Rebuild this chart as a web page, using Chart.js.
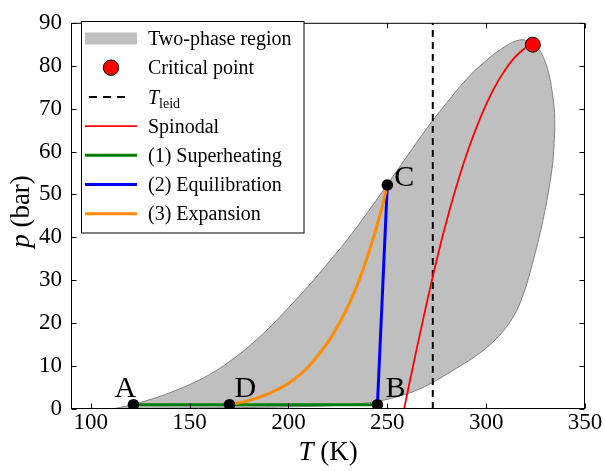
<!DOCTYPE html>
<html>
<head>
<meta charset="utf-8">
<script src="https://cdn.jsdelivr.net/npm/chart.js@4.4.0/dist/chart.umd.min.js"></script>
<style>
  html, body { margin: 0; padding: 0; background: #fff; }
  canvas { display: block; }
</style>
</head>
<body>
<canvas id="chart" width="605" height="471"></canvas>
<script>
// ====== Dados ======
const xTicks = [100, 150, 200, 250, 300, 350];
const yTicks = [0, 10, 20, 30, 40, 50, 60, 70, 80, 90];

// contorno da região bifásica (volta fechada: borda de baixo/direita, depois a de cima)
const envelopeT = [112, 150, 180, 210, 230, 245, 256, 266, 276, 285, 293, 300, 306, 311, 315.5, 319, 322, 324.6, 326.8, 328.7, 330.3, 331.8, 333, 334, 334.5, 334.7, 334.4, 333.3, 331.5, 329, 326, 322, 317,
    310, 300, 290, 280, 270, 260, 250, 240, 230, 220, 210, 200, 190, 180, 170, 160, 150, 140, 130, 120, 112];
const envelopeP = [0.1, 0.2, 0.35, 0.6, 1.0, 1.8, 3.0, 4.6, 7.0, 9.5, 11.8, 14.2, 16.8, 19.6, 23, 27, 31.5, 36, 40, 44, 47.5, 51.5, 55, 59, 63, 66.6, 70, 74.2, 78.5, 81.9, 84.2, 85.6, 86,
    84.6, 81.2, 76.8, 71.3, 65.4, 58.9, 52.3, 45.8, 39.6, 34.0, 28.6, 23.6, 18.8, 14.6, 11.0, 8.0, 5.7, 3.8, 2.2, 0.9, 0.1];

const spinodalT = [258.5, 262, 266, 270, 274, 278, 282, 286, 290, 294, 298, 302, 306, 310, 314, 318, 321, 323.6];
const spinodalP = [0, 7.8, 16.4, 24.8, 32.8, 40.3, 47.2, 53.5, 59.2, 64.3, 68.9, 72.9, 76.4, 79.3, 81.7, 83.5, 84.4, 84.9];

const superheatT = [121.6, 245];
const superheatP = [1, 1];

const equilT = [245, 250];
const equilP = [1, 52.2];

const expansionT = [170.2, 180, 190, 200, 210, 220, 226, 232, 237, 241, 244.5, 247.5, 250];
const expansionP = [1.0, 2.0, 3.6, 6.0, 9.8, 15.6, 20.2, 25.8, 31.6, 37.0, 42.3, 47.3, 52.2];

const tLeid = 273;
const leidP = [0, 90];

const stateNames = ["A", "B", "C", "D"];
const stateT = [121.6, 245, 250, 170.2];
const stateP = [1, 1, 52.2, 1];

const criticalT = [323.6];
const criticalP = [84.9];

const legendLabels = ["Two-phase region", "Critical point", "T_leid", "Spinodal",
    "(1) Superheating", "(2) Equilibration", "(3) Expansion"];

const SERIF = "'Liberation Serif', 'Times New Roman', serif";

function toXY(ts, ps) {
    return ts.map((t, i) => ({ x: t, y: ps[i] }));
}

// ====== Ticks para dentro + moldura ======
const framePlugin = {
    id: "frame",
    afterDatasetsDraw(chart) {
        const { ctx, chartArea: a, scales } = chart;
        const L = a.left + 0.5, R = a.right - 0.5, T = a.top + 0.5, B = a.bottom - 0.5;
        ctx.save();
        ctx.strokeStyle = "#000";
        ctx.lineWidth = 1;
        ctx.beginPath();
        xTicks.forEach(v => {
            const px = Math.round(scales.x.getPixelForValue(v)) + 0.5;
            ctx.moveTo(px, B); ctx.lineTo(px, B - 5);
            ctx.moveTo(px, T); ctx.lineTo(px, T + 5);
        });
        yTicks.forEach(v => {
            const py = Math.round(scales.y.getPixelForValue(v)) + 0.5;
            ctx.moveTo(L, py); ctx.lineTo(L + 5, py);
            ctx.moveTo(R, py); ctx.lineTo(R - 5, py);
        });
        ctx.stroke();
        ctx.strokeRect(L, T, R - L, B - T);
        ctx.restore();
    }
};

// ====== Rótulos A-D, títulos e legenda ======
const labelOffsets = { A: [-19, -8], B: [8, -8], C: [7, 1], D: [5, -8] };

function drawMixed(ctx, parts, x, y) {
    let cx = x;
    parts.forEach(p => {
        ctx.font = p.font;
        ctx.fillText(p.text, cx, y + (p.dy || 0));
        cx += ctx.measureText(p.text).width;
    });
}
function mixedWidth(ctx, parts) {
    let w = 0;
    parts.forEach(p => { ctx.font = p.font; w += ctx.measureText(p.text).width; });
    return w;
}

const annotPlugin = {
    id: "annot",
    afterDraw(chart) {
        const { ctx, chartArea: a, scales } = chart;
        ctx.save();
        ctx.fillStyle = "#000";
        ctx.textBaseline = "alphabetic";
        ctx.textAlign = "left";

        // letras dos estados
        ctx.font = "30px " + SERIF;
        stateNames.forEach((n, i) => {
            const px = scales.x.getPixelForValue(stateT[i]);
            const py = scales.y.getPixelForValue(stateP[i]);
            const o = labelOffsets[n];
            ctx.fillText(n, px + o[0], py + o[1]);
        });

        // título eixo x
        const xt = [
            { text: "T", font: "italic 27px " + SERIF },
            { text: " (K)", font: "27px " + SERIF }
        ];
        const cx = (a.left + a.right) / 2;
        drawMixed(ctx, xt, cx - mixedWidth(ctx, xt) / 2, 460);

        // título eixo y
        const yt = [
            { text: "p", font: "italic 27px " + SERIF },
            { text: " (bar)", font: "27px " + SERIF }
        ];
        ctx.save();
        ctx.translate(29, 211.5);
        ctx.rotate(-Math.PI / 2);
        drawMixed(ctx, yt, -mixedWidth(ctx, yt) / 2, 0);
        ctx.restore();

        // legenda
        ctx.fillStyle = "#fff";
        ctx.fillRect(81.5, 21.5, 222.5, 211.5);
        ctx.strokeStyle = "#000";
        ctx.lineWidth = 1;
        ctx.strokeRect(81.5, 21.5, 222.5, 211.5);

        const rowY = i => 38.5 + i * 29.2;
        const hx0 = 85, hx1 = 137;
        // 0 região bifásica
        ctx.fillStyle = "#bfbfbf";
        ctx.fillRect(hx0, rowY(0) - 6, hx1 - hx0, 12);
        // 1 ponto crítico
        ctx.beginPath();
        ctx.arc(111, rowY(1), 7.7, 0, Math.PI * 2);
        ctx.fillStyle = "#ff0000";
        ctx.fill();
        ctx.strokeStyle = "#000";
        ctx.stroke();
        // 2 T_leid
        ctx.save();
        ctx.setLineDash([8, 6]);
        ctx.lineWidth = 2;
        ctx.beginPath();
        ctx.moveTo(89, rowY(2)); ctx.lineTo(126, rowY(2));
        ctx.stroke();
        ctx.restore();
        // 3..6 linhas
        const lineHandles = [[3, "#ff0000", 1.8], [4, "#008000", 3], [5, "#0000ff", 3], [6, "#ff8c00", 3]];
        lineHandles.forEach(([i, c, w]) => {
            ctx.strokeStyle = c;
            ctx.lineWidth = w;
            ctx.beginPath();
            ctx.moveTo(hx0, rowY(i)); ctx.lineTo(hx1, rowY(i));
            ctx.stroke();
        });

        ctx.fillStyle = "#000";
        legendLabels.forEach((lab, i) => {
            const y = rowY(i) + 6.7;
            if (lab === "T_leid") {
                drawMixed(ctx, [
                    { text: "T", font: "italic 20px " + SERIF },
                    { text: "leid", font: "14px " + SERIF, dy: 4 }
                ], 148, y);
            } else {
                ctx.font = "20px " + SERIF;
                ctx.fillText(lab, 148, y);
            }
        });
        ctx.restore();
    }
};

// ====== Gráfico ======
new Chart(document.getElementById("chart"), {
    type: "scatter",
    data: {
        datasets: [
            {
                label: "Critical point",
                data: toXY(criticalT, criticalP),
                showLine: false,
                pointRadius: 7.5,
                pointBackgroundColor: "#ff0000",
                pointBorderColor: "#000",
                pointBorderWidth: 1,
                order: 0
            },
            {
                label: "States",
                data: toXY(stateT, stateP),
                showLine: false,
                pointRadius: 5.8,
                pointBackgroundColor: "#000",
                pointBorderColor: "#000",
                pointBorderWidth: 0,
                order: 1
            },
            {
                label: "(3) Expansion",
                data: toXY(expansionT, expansionP),
                showLine: true,
                borderColor: "#ff8c00",
                borderWidth: 3,
                pointRadius: 0,
                tension: 0.4,
                order: 2
            },
            {
                label: "(2) Equilibration",
                data: toXY(equilT, equilP),
                showLine: true,
                borderColor: "#0000ff",
                borderWidth: 3,
                pointRadius: 0,
                order: 3
            },
            {
                label: "(1) Superheating",
                data: toXY(superheatT, superheatP),
                showLine: true,
                borderColor: "#008000",
                borderWidth: 3,
                pointRadius: 0,
                order: 4
            },
            {
                label: "Spinodal",
                data: toXY(spinodalT, spinodalP),
                showLine: true,
                borderColor: "#ff0000",
                borderWidth: 1.8,
                pointRadius: 0,
                tension: 0.4,
                order: 5
            },
            {
                label: "T_leid",
                data: toXY([tLeid, tLeid], leidP),
                showLine: true,
                borderColor: "#000",
                borderWidth: 2,
                borderDash: [7, 5],
                pointRadius: 0,
                order: 6
            },
            {
                label: "Two-phase region",
                data: toXY(envelopeT, envelopeP),
                showLine: true,
                fill: "shape",
                backgroundColor: "#bfbfbf",
                borderColor: "#808080",
                borderWidth: 1,
                pointRadius: 0,
                tension: 0.4,
                order: 7
            }
        ]
    },
    options: {
        responsive: false,
        animation: false,
        devicePixelRatio: 1,
        layout: { padding: { top: 11, right: 20, left: 0, bottom: 0 } },
        plugins: { legend: { display: false }, tooltip: { enabled: false } },
        scales: {
            x: {
                type: "linear",
                min: 90, max: 350,
                afterBuildTicks: s => { s.ticks = xTicks.map(v => ({ value: v })); },
                afterFit: s => { s.height = 62; },
                ticks: { color: "#000", padding: 0, font: { family: SERIF, size: 23 } },
                grid: { display: false, drawTicks: false },
                border: { display: false }
            },
            y: {
                type: "linear",
                min: 0, max: 90,
                afterBuildTicks: s => { s.ticks = yTicks.map(v => ({ value: v })); },
                afterFit: s => { s.width = 71; },
                ticks: { color: "#000", padding: 9, font: { family: SERIF, size: 23 } },
                grid: { display: false, drawTicks: false },
                border: { display: false }
            }
        }
    },
    plugins: [framePlugin, annotPlugin]
});
</script>
</body>
</html>
